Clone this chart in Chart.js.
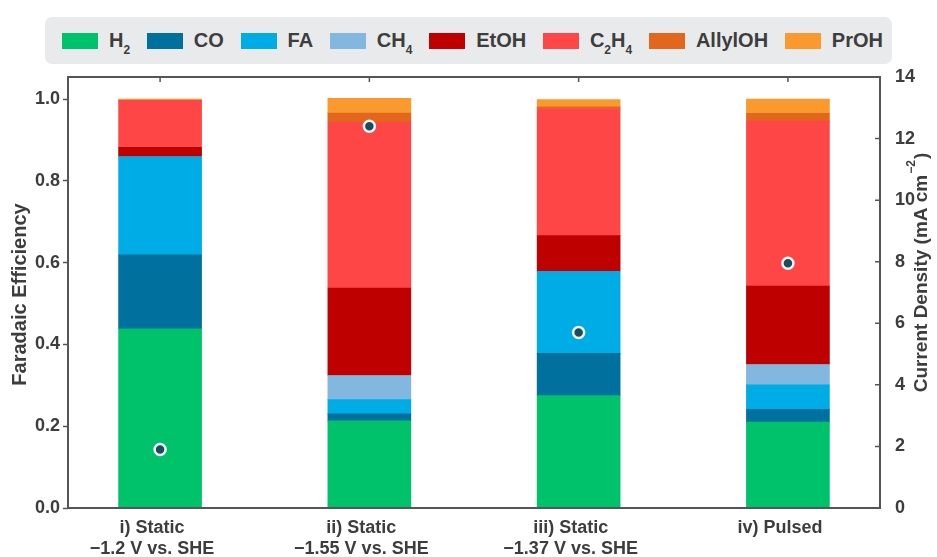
<!DOCTYPE html>
<html>
<head>
<meta charset="utf-8">
<script src="https://cdn.jsdelivr.net/npm/chart.js@4"></script>
<style>
  html, body { margin: 0; padding: 0; background: #fff; }
  #wrap { position: relative; width: 937px; height: 557px; }
  #legend {
    position: absolute; left: 45px; top: 17px; width: 847px; height: 47px;
    box-sizing: border-box; padding: 0 9px 0 17px;
    background: #e9eaec; border-radius: 7px;
    display: flex; align-items: center; justify-content: space-between;
    font: bold 20px "Liberation Sans", Arial, sans-serif; color: #3d3d3d;
  }
  #legend .item { display: flex; align-items: center; }
  #legend .sw { width: 36px; height: 16px; margin-right: 11px; }
  #legend sub { font-size: 12px; vertical-align: -7px; line-height: 0; }
</style>
</head>
<body>
<div id="wrap">
  <canvas id="feChart" width="937" height="557"></canvas>
  <div id="legend"></div>
</div>
<script>
// categories on the x axis (one per electrolysis condition)
const categories = [
  ['i) Static', '\u22121.2 V vs. SHE'],
  ['ii) Static', '\u22121.55 V vs. SHE'],
  ['iii) Static', '\u22121.37 V vs. SHE'],
  ['iv) Pulsed']
];

// Faradaic efficiency per product
const h2      = [0.438, 0.213, 0.275, 0.210];
const co      = [0.181, 0.017, 0.103, 0.031];
const fa      = [0.240, 0.035, 0.201, 0.060];
const ch4     = [0.000, 0.059, 0.000, 0.050];
const etoh    = [0.023, 0.214, 0.087, 0.192];
const c2h4    = [0.115, 0.406, 0.311, 0.403];
const allylOH = [0.000, 0.022, 0.004, 0.019];
const prOH    = [0.003, 0.036, 0.018, 0.035];

// total current density, mA cm^-2
const currentDensity = [1.9, 12.4, 5.7, 7.95];

const feTicks = [0, 0.2, 0.4, 0.6, 0.8, 1.0];
const jTicks = [0, 2, 4, 6, 8, 10, 12, 14];

const products = [
  { name: 'H2',      html: 'H<sub>2</sub>',             values: h2,      color: '#00c26b' },
  { name: 'CO',      html: 'CO',                        values: co,      color: '#00709e' },
  { name: 'FA',      html: 'FA',                        values: fa,      color: '#00ace6' },
  { name: 'CH4',     html: 'CH<sub>4</sub>',            values: ch4,     color: '#82b8e0' },
  { name: 'EtOH',    html: 'EtOH',                      values: etoh,    color: '#be0000' },
  { name: 'C2H4',    html: 'C<sub>2</sub>H<sub>4</sub>', values: c2h4,   color: '#ff4646' },
  { name: 'AllylOH', html: 'AllylOH',                   values: allylOH, color: '#e2661c' },
  { name: 'PrOH',    html: 'PrOH',                      values: prOH,    color: '#fa9a2e' }
];

const ink = '#3d3d3d';
const frame = '#555';
const fontFamily = '"Liberation Sans", Arial, sans-serif';
const tickFont = { family: 'Liberation Sans, Arial, sans-serif', size: 18, weight: 'bold', lineHeight: 1.15 };

// legend
const legendEl = document.getElementById('legend');
products.forEach(p => {
  const item = document.createElement('div');
  item.className = 'item';
  item.innerHTML = '<span class="sw" style="background:' + p.color + '"></span><span>' + p.html + '</span>';
  legendEl.appendChild(item);
});

const datasets = products.map(p => ({
  type: 'bar',
  label: p.name,
  data: p.values.map((v, i) => ({ x: i, y: v })),
  backgroundColor: p.color,
  borderWidth: 0,
  barThickness: 83,
  yAxisID: 'y',
  order: 2
}));

datasets.push({
  type: 'line',
  label: 'Current density',
  data: currentDensity.map((v, i) => ({ x: i, y: v })),
  showLine: false,
  pointRadius: 5.5,
  pointBorderWidth: 2.5,
  pointBackgroundColor: '#1b4b5c',
  pointBorderColor: '#f4f8f8',
  yAxisID: 'y1',
  order: 1
});

// frame, inner ticks and axis titles
const framePlugin = {
  id: 'frame',
  afterDraw(chart) {
    const { ctx, chartArea: a, scales } = chart;
    ctx.save();
    ctx.strokeStyle = frame;
    ctx.lineWidth = 2;
    ctx.strokeRect(a.left, a.top, a.right - a.left, a.bottom - a.top);

    ctx.lineWidth = 1.5;
    ctx.beginPath();
    scales.y1.ticks.forEach(t => {
      const py = scales.y1.getPixelForValue(t.value);
      ctx.moveTo(a.right - 5, py);
      ctx.lineTo(a.right, py);
    });
    scales.x.ticks.forEach(t => {
      const px = scales.x.getPixelForValue(t.value);
      ctx.moveTo(px, a.top);
      ctx.lineTo(px, a.top + 5);
    });
    ctx.stroke();

    ctx.fillStyle = ink;
    ctx.textBaseline = 'middle';

    // left title
    ctx.save();
    ctx.textAlign = 'center';
    ctx.translate(20, (a.top + a.bottom) / 2 + 2);
    ctx.rotate(-Math.PI / 2);
    ctx.font = 'bold 20px ' + fontFamily;
    ctx.fillText('Faradaic Efficiency', 0, 0);
    ctx.restore();

    // right title with superscript unit
    ctx.save();
    ctx.translate(922, (a.top + a.bottom) / 2 - 20);
    ctx.rotate(-Math.PI / 2);
    ctx.textAlign = 'left';
    const main = 'Current Density (mA cm';
    const sup = '\u22122';
    ctx.font = 'bold 19px ' + fontFamily;
    const wMain = ctx.measureText(main).width;
    const wClose = ctx.measureText(')').width;
    ctx.font = 'bold 12px ' + fontFamily;
    const wSup = ctx.measureText(sup).width;
    let x0 = -(wMain + wSup + wClose + 2) / 2;
    ctx.font = 'bold 19px ' + fontFamily;
    ctx.fillText(main, x0, 0);
    ctx.font = 'bold 12px ' + fontFamily;
    ctx.fillText(sup, x0 + wMain + 1, -10);
    ctx.font = 'bold 19px ' + fontFamily;
    ctx.fillText(')', x0 + wMain + wSup + 2, 0);
    ctx.restore();

    ctx.restore();
  }
};

new Chart(document.getElementById('feChart'), {
  data: { datasets },
  options: {
    responsive: false,
    animation: false,
    layout: { padding: { top: 77, left: 0, right: 0, bottom: 0 } },
    plugins: { legend: { display: false }, tooltip: { enabled: false } },
    scales: {
      x: {
        type: 'linear',
        offset: false,
        stacked: true,
        min: -0.44,
        max: 3.44,
        afterBuildTicks: s => { s.ticks = categories.map((c, i) => ({ value: i })); },
        afterFit: s => { s.height = 49; },
        grid: { display: false },
        border: { display: false },
        ticks: {
          callback: v => categories[v],
          font: tickFont,
          color: ink,
          padding: 2,
          labelOffset: -8,
          maxRotation: 0,
          autoSkip: false
        }
      },
      y: {
        position: 'left',
        stacked: true,
        min: 0,
        max: 1.054,
        afterBuildTicks: s => { s.ticks = feTicks.map(v => ({ value: v })); },
        afterFit: s => { s.width = 68; },
        grid: { drawOnChartArea: false, tickLength: 5, tickColor: frame, tickWidth: 1.5 },
        border: { display: false },
        ticks: {
          callback: v => v.toFixed(1),
          font: tickFont,
          color: ink,
          padding: 3
        }
      },
      y1: {
        position: 'right',
        min: 0,
        max: 14,
        afterBuildTicks: s => { s.ticks = jTicks.map(v => ({ value: v })); },
        afterFit: s => { s.width = 57; },
        grid: { display: false },
        border: { display: false },
        ticks: { font: tickFont, color: ink, padding: 7 }
      }
    }
  },
  plugins: [framePlugin]
});
</script>
</body>
</html>
